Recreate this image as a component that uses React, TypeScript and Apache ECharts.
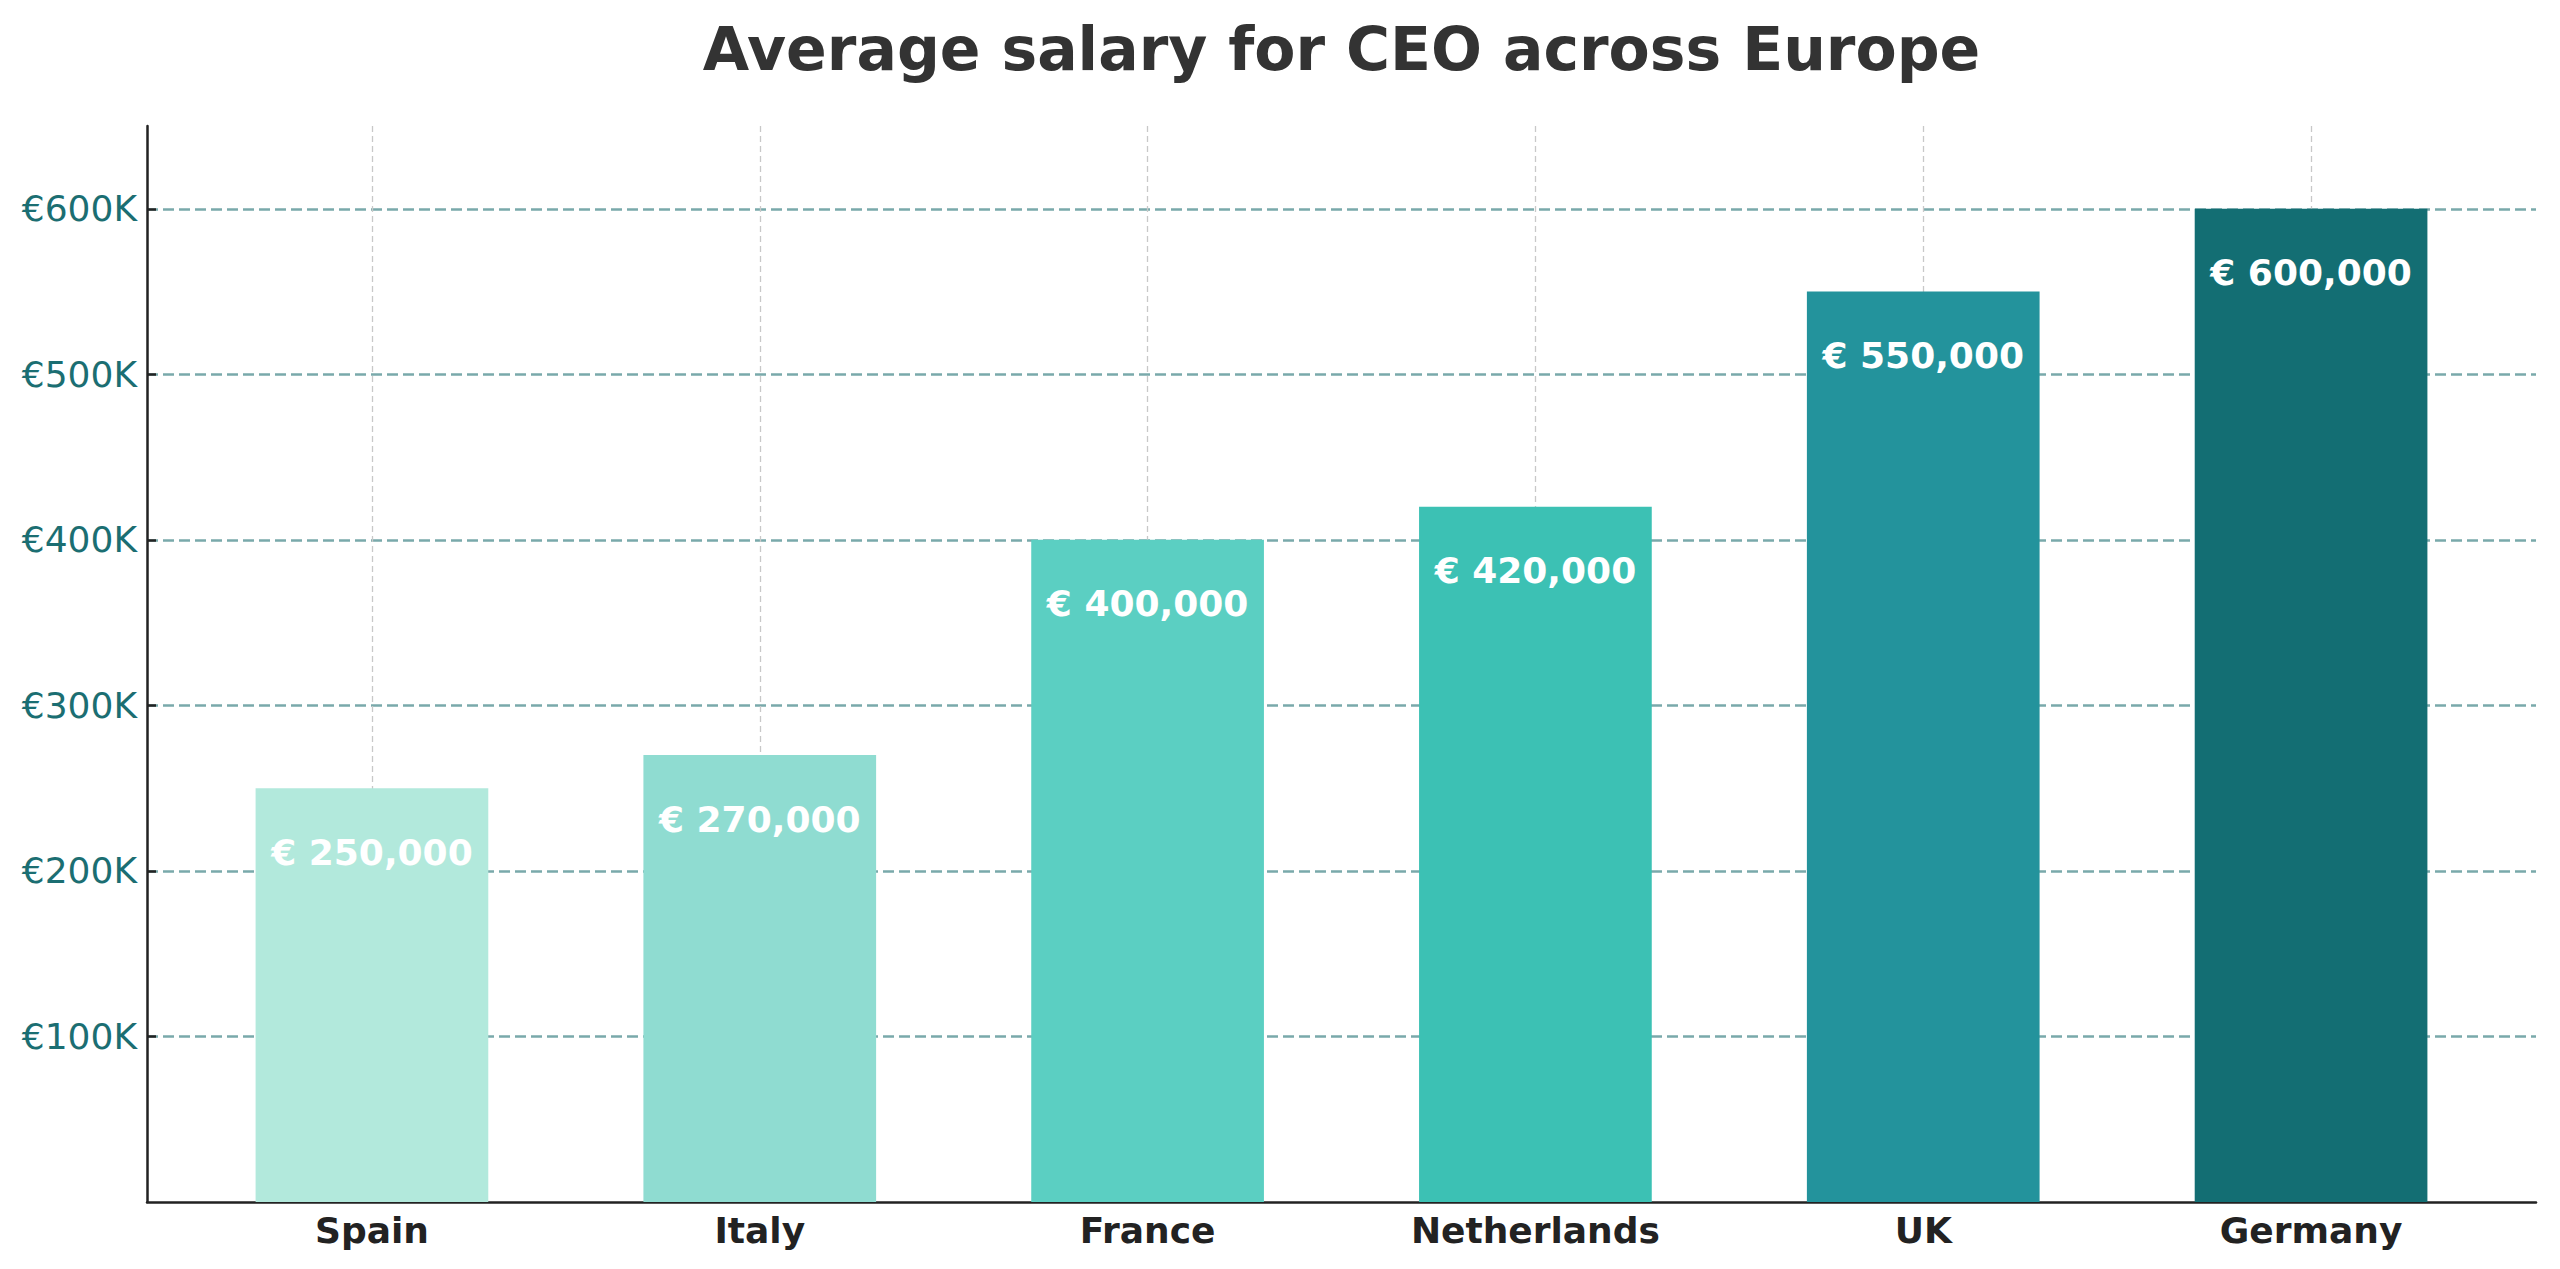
import React, { useEffect, useRef } from "react";
import * as echarts from "echarts";

const categories = ["Spain", "Italy", "France", "Netherlands", "UK", "Germany"];
const salaries = [250000, 270000, 400000, 420000, 550000, 600000];
const barColors = ["#b2e9dc", "#8fdcd1", "#5bcfc2", "#3cc1b4", "#23939c", "#136e73"];
const yTicks = [100000, 200000, 300000, 400000, 500000, 600000];
const xTicks = [0, 1, 2, 3, 4, 5];
const titleText = "Average salary for CEO across Europe";

const FONT = "DejaVu Sans";
const W = 2560;
const H = 1269;
const GRID = { left: 147, top: 126, right: 24, bottom: 67 };
const X_MIN = -0.58;
const X_MAX = 5.58;

export default function App() {
  const ref = useRef<HTMLDivElement>(null);
  useEffect(() => {
    if (!ref.current) return;
    const chart = echarts.init(ref.current, undefined, { renderer: "svg" });
    const plotW = W - GRID.left - GRID.right;
    const barW = (0.6 * plotW) / (X_MAX - X_MIN);
    chart.setOption({
      animation: false,
      backgroundColor: "#ffffff",
      graphic: [
        {
          type: "text",
          x: GRID.left + plotW / 2,
          y: 49,
          style: {
            text: titleText,
            align: "center",
            verticalAlign: "middle",
            fontFamily: FONT,
            fontWeight: "bold",
            fontSize: 60,
            fill: "#333333",
          },
        },
      ],
      grid: { ...GRID, containLabel: false },
      xAxis: {
        type: "value",
        min: X_MIN,
        max: X_MAX,
        axisLine: { show: true, onZero: false, lineStyle: { color: "#222222", width: 2.5 } },
        axisTick: { show: false, customValues: xTicks },
        axisLabel: {
          customValues: xTicks,
          formatter: (v: number) => categories[Math.round(v)] ?? "",
          fontFamily: FONT,
          fontWeight: "bold",
          fontSize: 36,
          color: "#222222",
          margin: 10,
        },
        splitLine: {
          show: true,
          lineStyle: { color: "#c8c8c8", width: 1.3, type: [6, 4] },
        },
      },
      yAxis: {
        type: "value",
        min: 0,
        max: 650000,
        axisLine: { show: true, onZero: false, lineStyle: { color: "#222222", width: 2.5 } },
        axisTick: {
          show: true,
          inside: true,
          length: 9,
          customValues: yTicks,
          lineStyle: { color: "#222222", width: 2.5 },
        },
        axisLabel: {
          customValues: yTicks,
          formatter: (v: number) => "€" + Math.round(v / 1000) + "K",
          fontFamily: FONT,
          fontSize: 36,
          color: "#1b6e72",
          margin: 10,
        },
        splitLine: {
          show: true,
          lineStyle: { color: "#79a9ab", width: 2.5, type: [11, 5] },
        },
      },
      series: [
        {
          type: "bar",
          barWidth: barW,
          clip: false,
          data: salaries.map((v, i) => ({
            value: [i, v],
            itemStyle: { color: barColors[i] },
          })),
          label: {
            show: true,
            position: "insideTop",
            distance: 44,
            formatter: (p: any) => "€ " + Number(p.value[1]).toLocaleString("en-US"),
            fontFamily: FONT,
            fontWeight: "bold",
            fontSize: 36,
            lineHeight: 40,
            color: "#ffffff",
          },
        },
      ],
    });
    return () => chart.dispose();
  }, []);
  return (
    <div
      ref={ref}
      style={{ position: "fixed", left: 0, top: 0, width: W, height: H, background: "#fff" }}
    />
  );
}
